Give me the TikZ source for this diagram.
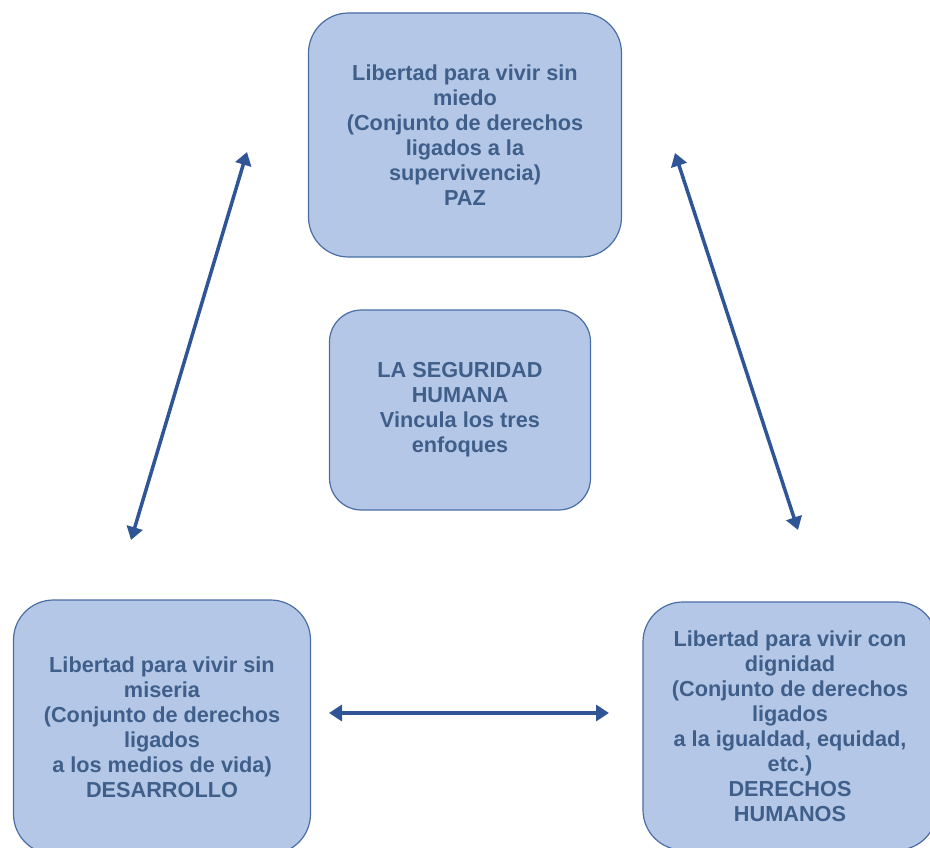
\documentclass[tikz,border=0pt]{standalone}
\usepackage{fontspec}
\setmainfont{Liberation Sans}
\usetikzlibrary{arrows.meta}
\definecolor{boxfill}{HTML}{B4C7E7}
\definecolor{boxline}{HTML}{4A6DA5}
\definecolor{boxtext}{HTML}{3F5F8A}
\definecolor{arrowblue}{HTML}{2F5597}

\begin{document}
\begin{tikzpicture}[x=1pt,y=-1pt,
    enfoque/.style={draw=boxline, fill=boxfill, line width=1.2pt,
      rounded corners=40pt, text=boxtext, align=center, inner sep=0pt,
      font=\bfseries\fontsize{21.7}{25}\selectfont},
    vinculo/.style={arrowblue, line width=3.5pt,
      {Triangle[length=13pt,width=16pt]}-{Triangle[length=13pt,width=16pt]}}
  ]
  \clip (0,0) rectangle (930,848);

  % the three freedoms and the centre
  \node[enfoque, minimum width=313pt, minimum height=244pt] (paz) at (465,135)
    {Libertad para vivir sin\\ miedo\\ (Conjunto de derechos\\ ligados a la\\ supervivencia)\\ PAZ};
  \node[enfoque, minimum width=261pt, minimum height=200pt, rounded corners=32pt] (seguridad) at (460,410)
    {LA SEGURIDAD\\ HUMANA\\ Vincula los tres\\ enfoques};
  \node[enfoque, minimum width=297pt, minimum height=254pt] (desarrollo) at (162,727)
    {Libertad para vivir sin\\ miseria\\ (Conjunto de derechos\\ ligados\\ a los medios de vida)\\ DESARROLLO};
  \node[enfoque, minimum width=294pt, minimum height=248pt] (ddhh) at (790,726)
    {Libertad para vivir con\\ dignidad\\ (Conjunto de derechos\\ ligados\\ a la igualdad, equidad,\\ etc.)\\ DERECHOS\\ HUMANOS};

  % arrow ends
  \coordinate (izq-a) at (247,152);
  \coordinate (izq-b) at (131,540);
  \coordinate (der-a) at (675,153);
  \coordinate (der-b) at (798,530);
  \coordinate (hor-a) at (329,713);
  \coordinate (hor-b) at (609,713);

  \draw[vinculo] (izq-a) -- (izq-b);
  \draw[vinculo] (der-a) -- (der-b);
  \draw[vinculo] (hor-a) -- (hor-b);
\end{tikzpicture}
\end{document}
